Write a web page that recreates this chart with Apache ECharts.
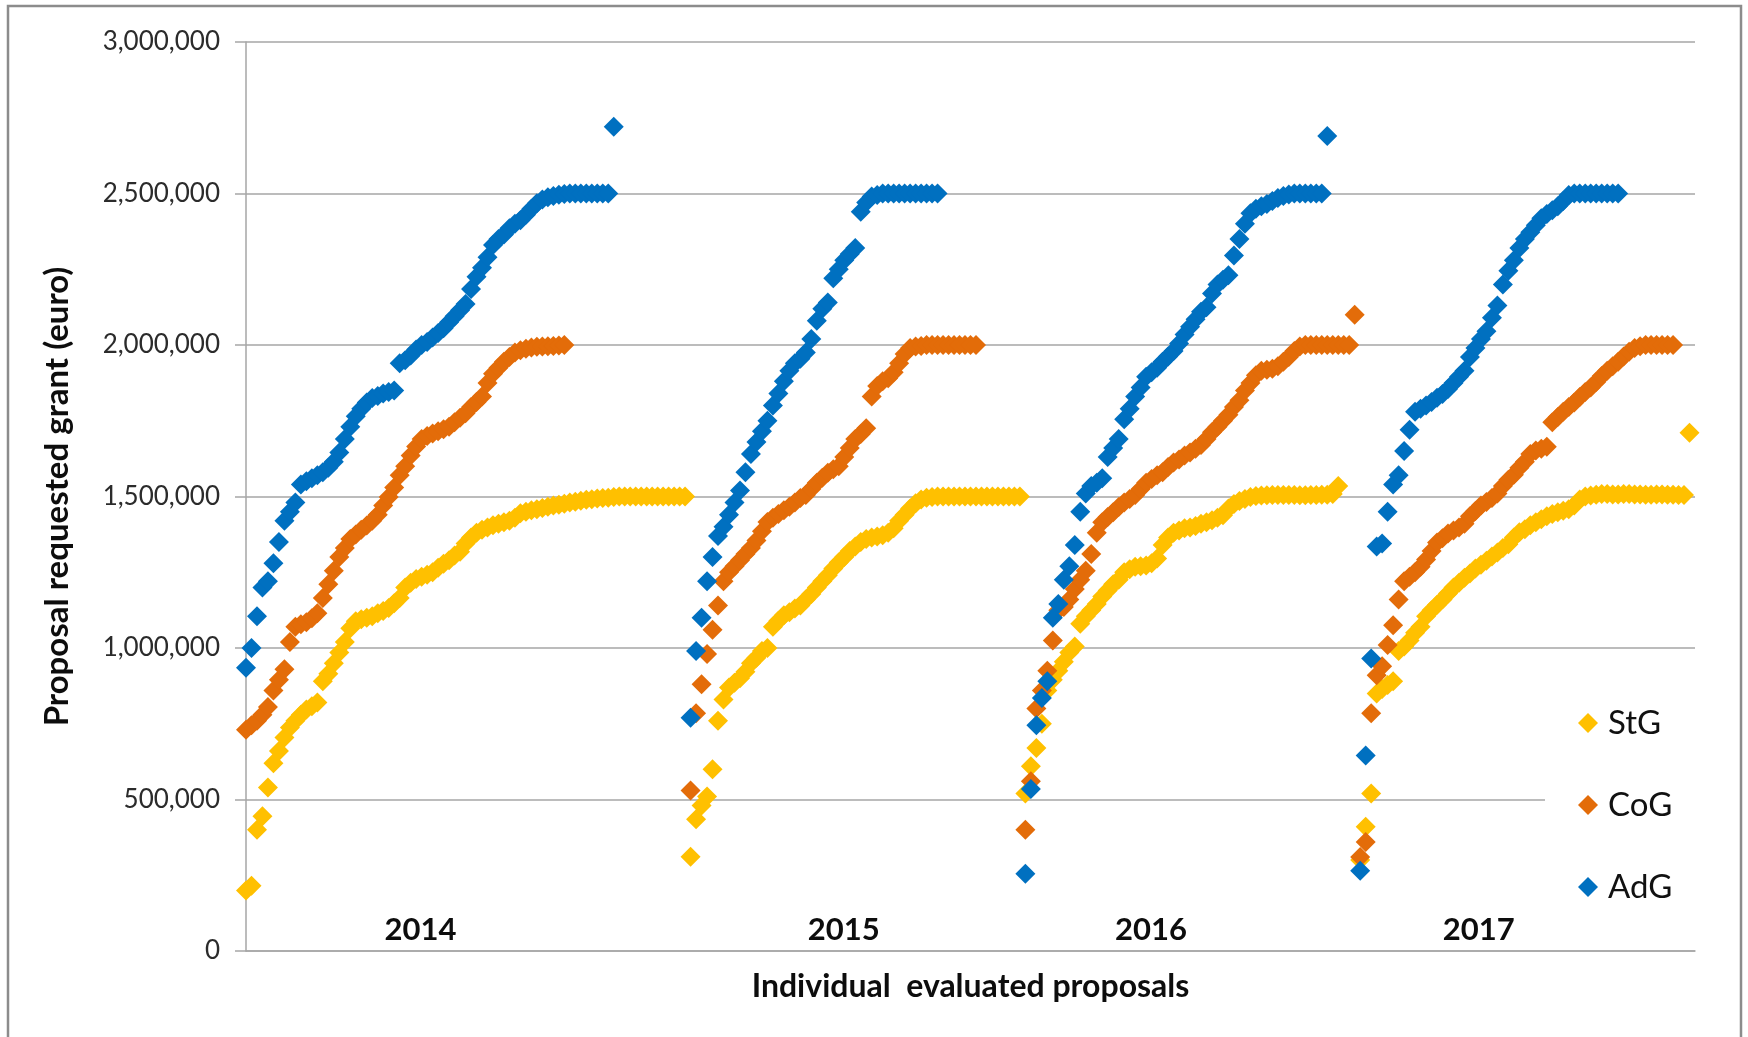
<!DOCTYPE html>
<html><head><meta charset="utf-8">
<script src="https://cdn.jsdelivr.net/npm/echarts@6/dist/echarts.min.js"></script>
<style>html,body{margin:0;padding:0;background:#fff;}#c{width:1748px;height:1037px;}</style>
</head><body><div id="c"></div><script>
// Values in thousand euro, each array = proposals of one call year, sorted by requested grant
const years = ['2014', '2015', '2016', '2017'];
const seriesNames = ['StG', 'CoG', 'AdG'];
const yearLabelAt = [31.8, 108.9, 164.9, 224.6]; // proposal index where the year caption sits

const stg2014 = [200,215,400,445,540,620,660,705,738,760,780,797,808,820,890,915,950,985,1020,1065,1088,1095,1100,1105,1115,1122,1132,1148,1165,1200,1215,1228,1235,1242,1250,1265,1278,1290,1305,1318,1345,1365,1380,1390,1398,1405,1410,1415,1420,1430,1445,1450,1455,1458,1462,1466,1470,1473,1476,1480,1483,1486,1489,1491,1493,1495,1496,1498,1500,1500,1500,1500,1500,1500,1500,1500,1500,1500,1500,1500,1500];
const cog2014 = [730,745,760,780,805,860,895,930,1020,1070,1078,1085,1098,1115,1165,1210,1255,1300,1330,1360,1375,1390,1404,1420,1440,1470,1498,1530,1570,1600,1635,1665,1690,1700,1708,1715,1722,1730,1745,1760,1775,1795,1812,1830,1875,1905,1925,1945,1960,1975,1983,1988,1992,1994,1995,1996,1997,1998,2000];
const adg2014 = [935,1000,1105,1200,1220,1280,1350,1420,1450,1480,1540,1550,1560,1570,1580,1595,1615,1645,1690,1730,1765,1790,1810,1825,1832,1840,1845,1850,1940,1950,1965,1985,2000,2010,2025,2040,2055,2075,2095,2115,2135,2185,2225,2255,2290,2330,2350,2365,2385,2400,2412,2430,2450,2468,2480,2488,2492,2496,2498,2500,2500,2500,2500,2500,2500,2500,2500,2720];

const stg2015 = [311,435,480,510,600,760,830,870,885,900,922,950,968,990,1000,1070,1090,1108,1118,1130,1140,1160,1178,1200,1220,1240,1262,1282,1300,1320,1335,1350,1360,1365,1368,1372,1380,1395,1420,1440,1460,1478,1490,1496,1498,1500,1500,1500,1500,1500,1500,1500,1500,1500,1500,1500,1500,1500,1500,1500,1500];
const cog2015 = [530,785,880,980,1060,1140,1220,1250,1270,1290,1310,1330,1355,1385,1416,1430,1442,1455,1466,1480,1495,1505,1525,1545,1562,1578,1590,1600,1630,1660,1690,1706,1725,1830,1865,1880,1890,1910,1940,1970,1990,1995,1997,2000,2000,2000,2000,2000,2000,2000,2000,2000,2000];
const adg2015 = [770,990,1100,1220,1300,1370,1400,1440,1480,1520,1580,1640,1680,1715,1750,1800,1840,1880,1915,1940,1955,1975,2020,2080,2120,2140,2220,2250,2280,2300,2320,2440,2470,2490,2495,2500,2500,2500,2500,2500,2500,2500,2500,2500,2500,2500];

const stg2016 = [520,610,670,750,860,895,925,955,985,1005,1080,1105,1125,1145,1170,1190,1210,1225,1250,1260,1268,1270,1272,1280,1295,1340,1365,1380,1388,1395,1398,1403,1410,1415,1422,1430,1438,1460,1475,1485,1492,1498,1502,1503,1504,1505,1505,1505,1505,1505,1504,1504,1505,1505,1506,1506,1508,1535];
const cog2016 = [400,560,800,860,925,1025,1125,1135,1160,1195,1225,1255,1310,1380,1415,1432,1448,1465,1480,1492,1505,1525,1545,1558,1570,1580,1597,1612,1622,1635,1645,1658,1670,1690,1712,1730,1750,1770,1795,1818,1850,1875,1900,1915,1918,1922,1930,1945,1960,1980,1995,2000,2000,2000,2000,2000,2000,2000,2000,2000,2100];
const adg2016 = [255,535,745,835,890,1100,1145,1225,1270,1340,1450,1510,1535,1545,1560,1630,1660,1690,1755,1790,1830,1860,1895,1910,1925,1945,1962,1980,2005,2035,2060,2085,2110,2125,2170,2200,2215,2230,2295,2350,2400,2435,2450,2458,2465,2475,2485,2492,2497,2500,2500,2500,2500,2500,2500,2690];

const stg2017 = [300,410,520,850,865,878,890,990,1005,1025,1050,1070,1105,1125,1143,1160,1180,1200,1215,1232,1246,1262,1275,1288,1302,1315,1330,1342,1365,1382,1392,1405,1415,1425,1435,1442,1448,1453,1458,1470,1490,1500,1503,1506,1508,1508,1507,1507,1508,1508,1507,1507,1506,1506,1507,1507,1506,1506,1505,1505,1710];
const cog2017 = [310,360,785,910,940,1010,1075,1160,1220,1235,1250,1268,1292,1320,1348,1362,1378,1388,1398,1410,1435,1452,1470,1482,1495,1510,1535,1555,1572,1595,1615,1640,1652,1658,1664,1745,1762,1780,1795,1810,1828,1845,1860,1878,1898,1915,1930,1945,1962,1978,1990,1996,2000,2000,2000,2000,2000,2000];
const adg2017 = [265,645,965,1335,1345,1450,1540,1570,1650,1720,1780,1790,1800,1812,1826,1838,1855,1875,1895,1915,1960,1990,2020,2045,2090,2130,2200,2245,2280,2320,2350,2372,2395,2418,2432,2445,2458,2475,2495,2500,2500,2500,2500,2500,2500,2500,2500,2500];

const byYear = [
  [stg2014, cog2014, adg2014],
  [stg2015, cog2015, adg2015],
  [stg2016, cog2016, adg2016],
  [stg2017, cog2017, adg2017]
];

// each year's block of proposals starts after the longest series of the previous year
const offsets = [];
let acc = 0;
byYear.forEach(group => { offsets.push(acc); acc += Math.max(...group.map(a => a.length)); });
const xMax = acc;

const colors = ['#FFC000', '#E36C09', '#0070C0'];
const FONT = 'Lato, "Liberation Sans", sans-serif';
const GRID = '#a6a6a6';

function build(k) {
  const out = [];
  byYear.forEach((group, y) => {
    group[k].forEach((v, i) => out.push([offsets[y] + i, v * 1000]));
  });
  return out;
}

const option = {
  animation: false,
  backgroundColor: '#fff',
  textStyle: { fontFamily: FONT },
  grid: { left: 246, right: 53, top: 42, bottom: 86, outerBoundsMode: 'none' },
  graphic: [{
    type: 'rect', silent: true, z: -10,
    shape: { x: 8, y: 6, width: 1733, height: 1100 },
    style: { fill: 'none', stroke: '#8c8c8c', lineWidth: 2.5 }
  }],
  legend: {
    orient: 'vertical', left: 1545, top: 679,
    padding: [24, 60, 24, 33], itemGap: 42, itemWidth: 20, itemHeight: 20,
    backgroundColor: '#fff', icon: 'diamond',
    textStyle: { fontFamily: FONT, fontSize: 33, color: '#111', lineHeight: 40, padding: [0, 0, 0, 5] },
    data: seriesNames
  },
  xAxis: {
    type: 'value', min: 0, max: xMax,
    axisLine: { show: true, lineStyle: { color: GRID, width: 1.5 } },
    axisTick: { show: false },
    splitLine: { show: false },
    axisLabel: {
      inside: true, customValues: yearLabelAt, margin: 6,
      fontFamily: FONT, fontWeight: 'bold', fontSize: 31, color: '#0d0d0d',
      formatter: function (v) {
        let best = 0;
        yearLabelAt.forEach((p, i) => { if (Math.abs(p - v) < Math.abs(yearLabelAt[best] - v)) best = i; });
        return years[best];
      }
    },
    name: 'Individual  evaluated proposals', nameLocation: 'middle', nameGap: 20,
    nameTextStyle: { fontFamily: FONT, fontWeight: 'bold', fontSize: 32, color: '#0d0d0d', verticalAlign: 'top' }
  },
  yAxis: {
    type: 'value', min: 0, max: 3000000, interval: 500000,
    axisLine: { show: true, lineStyle: { color: GRID, width: 1.5 } },
    axisTick: { show: true, length: 11, lineStyle: { color: GRID, width: 1.5 } },
    splitLine: { show: true, lineStyle: { color: GRID, width: 1.5 } },
    axisLabel: {
      fontFamily: FONT, fontSize: 26, color: '#2b2b2b', margin: 26,
      formatter: v => v.toLocaleString('en-US')
    },
    name: 'Proposal requested grant (euro)', nameLocation: 'middle', nameGap: 172, nameRotate: 90,
    nameTextStyle: { fontFamily: FONT, fontWeight: 'bold', fontSize: 33, color: '#0d0d0d' }
  },
  series: seriesNames.map((name, k) => ({
    name, type: 'scatter', symbol: 'diamond', symbolSize: 20, clip: false,
    itemStyle: { color: colors[k], opacity: 1 },
    emphasis: { disabled: true },
    z: 2 + k,
    data: build(k)
  }))
};

const chart = echarts.init(document.getElementById('c'), null, { renderer: 'canvas' });
chart.setOption(option);
</script></body></html>
